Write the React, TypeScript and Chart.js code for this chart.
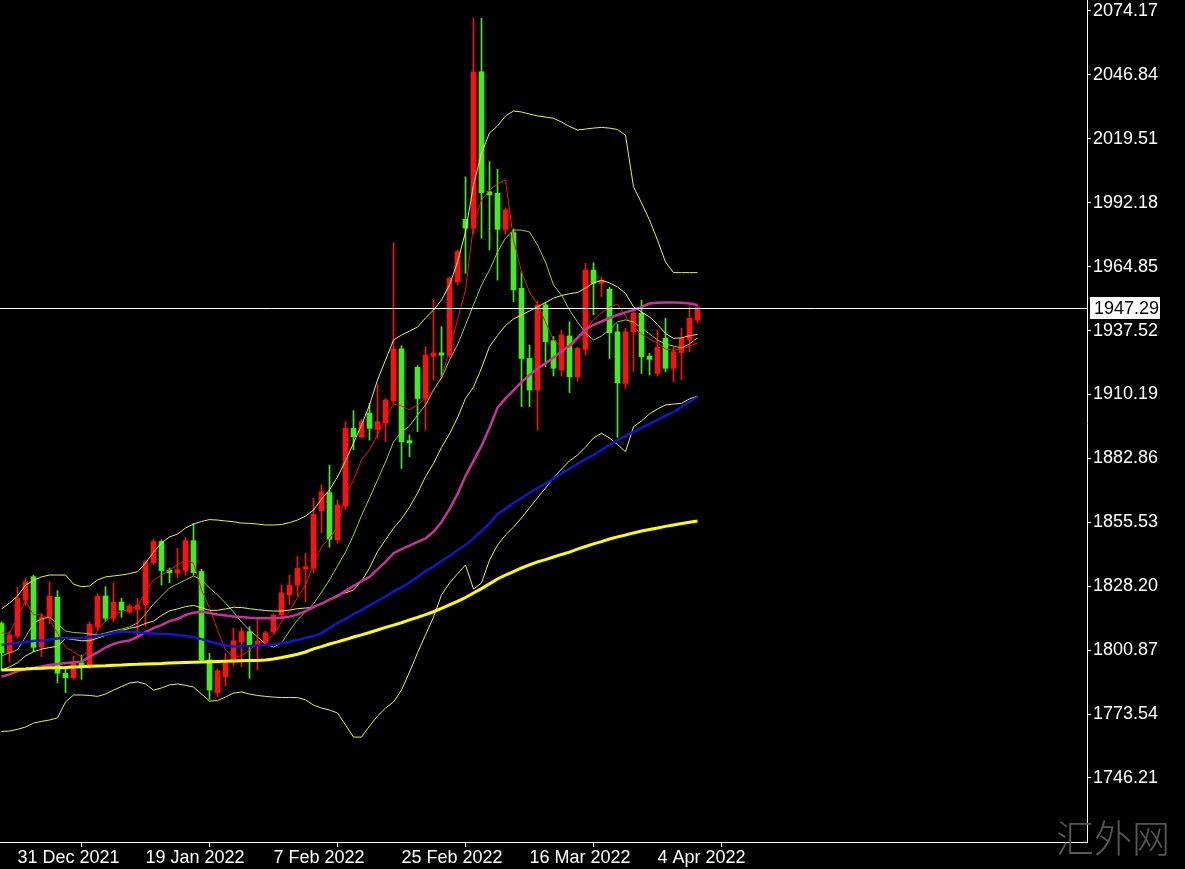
import React, { useEffect, useRef } from "react";
import { Chart, registerables } from "chart.js";

Chart.register(...registerables);

// ---------- data ----------
const DATES = [
  "29 Dec 2021", "30 Dec 2021", "31 Dec 2021", "2 Jan 2022", "3 Jan 2022", "4 Jan 2022", "5 Jan 2022", "6 Jan 2022", "7 Jan 2022", "9 Jan 2022",
  "10 Jan 2022", "11 Jan 2022", "12 Jan 2022", "13 Jan 2022", "14 Jan 2022", "16 Jan 2022", "17 Jan 2022", "18 Jan 2022", "19 Jan 2022", "20 Jan 2022",
  "21 Jan 2022", "23 Jan 2022", "24 Jan 2022", "25 Jan 2022", "26 Jan 2022", "27 Jan 2022", "28 Jan 2022", "30 Jan 2022", "31 Jan 2022", "1 Feb 2022",
  "2 Feb 2022", "3 Feb 2022", "4 Feb 2022", "6 Feb 2022", "7 Feb 2022", "8 Feb 2022", "9 Feb 2022", "10 Feb 2022", "11 Feb 2022", "13 Feb 2022",
  "14 Feb 2022", "15 Feb 2022", "16 Feb 2022", "17 Feb 2022", "18 Feb 2022", "20 Feb 2022", "21 Feb 2022", "22 Feb 2022", "23 Feb 2022", "24 Feb 2022",
  "25 Feb 2022", "27 Feb 2022", "28 Feb 2022", "1 Mar 2022", "2 Mar 2022", "3 Mar 2022", "4 Mar 2022", "6 Mar 2022", "7 Mar 2022", "8 Mar 2022",
  "9 Mar 2022", "10 Mar 2022", "11 Mar 2022", "13 Mar 2022", "14 Mar 2022", "15 Mar 2022", "16 Mar 2022", "17 Mar 2022", "18 Mar 2022", "20 Mar 2022",
  "21 Mar 2022", "22 Mar 2022", "23 Mar 2022", "24 Mar 2022", "25 Mar 2022", "27 Mar 2022", "28 Mar 2022", "29 Mar 2022", "30 Mar 2022", "31 Mar 2022",
  "1 Apr 2022", "3 Apr 2022", "4 Apr 2022", "5 Apr 2022", "6 Apr 2022", "7 Apr 2022", "8 Apr 2022", "10 Apr 2022",
];

const OPEN = [
  1812.3, 1799.8, 1806.9, 1822.3, 1832.3, 1802.1, 1814.9, 1823.5, 1791.0, 1789.1,
  1795.5, 1794.5, 1810.9, 1824.0, 1814.5, 1821.4, 1817.3, 1818.3, 1820.2, 1838.3,
  1847.3, 1835.1, 1834.0, 1834.9, 1847.7, 1834.5, 1796.7, 1782.7, 1789.5, 1795.9,
  1804.5, 1808.8, 1803.1, 1804.1, 1808.8, 1815.9, 1824.5, 1828.7, 1835.5, 1835.9,
  1860.5, 1868.2, 1848.0, 1862.5, 1895.7, 1892.1, 1902.2, 1895.3, 1898.1, 1907.5,
  1929.7, 1890.5, 1921.8, 1908.5, 1926.5, 1928.0, 1927.1, 1958.4, 1985.1, 1981.3,
  2048.2, 1996.9, 1996.2, 1980.8, 1979.4, 1955.6, 1925.6, 1912.1, 1948.5, 1933.2,
  1920.7, 1935.2, 1917.8, 1929.5, 1963.4, 1957.7, 1955.2, 1937.0, 1915.0, 1937.0,
  1944.9, 1926.6, 1919.2, 1934.2, 1921.4, 1928.1, 1933.5, 1942.0,
];
const HIGH = [
  1813.0, 1808.8, 1827.7, 1831.5, 1833.0, 1816.6, 1830.1, 1826.3, 1793.8, 1798.4,
  1798.8, 1813.0, 1825.0, 1828.0, 1829.7, 1823.0, 1820.5, 1823.0, 1839.5, 1848.3,
  1848.0, 1836.0, 1844.4, 1849.0, 1855.1, 1835.5, 1799.5, 1793.0, 1799.5, 1810.2,
  1810.5, 1810.9, 1813.8, 1809.0, 1816.5, 1828.7, 1833.0, 1840.9, 1842.3, 1865.8,
  1871.5, 1880.0, 1865.1, 1898.6, 1903.3, 1899.5, 1906.4, 1914.3, 1908.5, 1975.1,
  1931.0, 1892.9, 1922.5, 1930.6, 1950.6, 1939.2, 1960.5, 1972.0, 2003.3, 2071.0,
  2071.0, 2009.7, 2006.5, 1990.0, 1981.0, 1962.7, 1931.4, 1949.9, 1949.5, 1935.0,
  1937.8, 1941.3, 1930.5, 1966.3, 1966.5, 1960.5, 1956.0, 1940.3, 1938.5, 1945.5,
  1950.6, 1927.8, 1937.8, 1942.8, 1930.6, 1938.5, 1947.7, 1948.5,
];
const LOW = [
  1792.1, 1795.9, 1806.0, 1820.0, 1800.2, 1798.1, 1812.3, 1787.0, 1782.7, 1788.5,
  1788.4, 1793.0, 1809.5, 1813.0, 1813.0, 1814.9, 1816.5, 1806.0, 1811.0, 1837.5,
  1828.7, 1829.7, 1832.0, 1833.0, 1833.0, 1796.0, 1779.8, 1781.0, 1785.5, 1794.0,
  1793.8, 1788.8, 1792.4, 1803.5, 1808.0, 1814.5, 1820.2, 1824.0, 1821.6, 1834.0,
  1851.1, 1844.9, 1846.6, 1861.0, 1886.5, 1891.5, 1890.7, 1891.5, 1890.0, 1906.0,
  1878.6, 1883.6, 1894.3, 1895.0, 1916.4, 1917.8, 1926.0, 1957.0, 1962.0, 1979.0,
  1977.0, 1972.0, 1959.1, 1978.8, 1949.9, 1905.0, 1905.0, 1895.0, 1922.1, 1918.1,
  1918.1, 1911.0, 1916.0, 1927.1, 1944.2, 1952.0, 1925.6, 1891.9, 1912.8, 1919.9,
  1919.2, 1918.5, 1918.1, 1919.9, 1915.7, 1916.4, 1928.5, 1941.0,
];
const CLOSE = [
  1799.8, 1807.4, 1823.0, 1830.1, 1802.1, 1814.9, 1824.0, 1791.0, 1789.1, 1795.9,
  1793.8, 1812.0, 1824.0, 1814.5, 1821.4, 1818.0, 1819.7, 1820.0, 1838.7, 1847.3,
  1834.9, 1834.0, 1835.3, 1847.7, 1834.0, 1796.7, 1783.8, 1792.1, 1795.9, 1804.9,
  1808.8, 1803.1, 1804.8, 1808.3, 1815.9, 1825.4, 1828.7, 1835.9, 1836.5, 1859.0,
  1868.6, 1848.3, 1863.0, 1895.7, 1892.1, 1898.6, 1895.7, 1898.6, 1907.8, 1929.7,
  1890.0, 1889.5, 1908.5, 1927.1, 1928.0, 1927.0, 1959.9, 1971.3, 1981.3, 2048.2,
  1996.5, 1995.5, 1980.8, 1989.1, 1954.9, 1925.6, 1912.1, 1948.5, 1932.8, 1921.4,
  1935.6, 1917.8, 1929.9, 1963.4, 1957.7, 1959.1, 1936.6, 1915.2, 1937.0, 1944.9,
  1926.3, 1925.2, 1930.4, 1921.4, 1928.5, 1934.2, 1942.8, 1947.29,
];

// red thin moving average
const MA_RED = [
  1808.2, 1808.2, 1814.6, 1822.0, 1816.0, 1815.9, 1814.0, 1808.0, 1802.2, 1800.1,
  1798.0, 1801.0, 1809.5, 1813.3, 1815.9, 1817.4, 1818.5, 1819.5, 1825.7, 1830.9,
  1833.0, 1835.1, 1837.3, 1839.4, 1838.1, 1826.6, 1818.9, 1809.5, 1800.9, 1798.0,
  1798.4, 1800.9, 1803.9, 1804.8, 1807.4, 1812.9, 1817.6, 1823.2, 1828.7, 1837.3,
  1845.0, 1848.8, 1853.5, 1867.2, 1873.6, 1882.2, 1886.5, 1893.0, 1900.1, 1906.1,
  1905.3, 1903.6, 1905.7, 1908.7, 1912.1, 1917.7, 1929.2, 1942.1, 1954.9, 1982.7,
  1993.3, 1997.6, 2000.2, 2001.9, 1976.2, 1962.6, 1954.0, 1948.9, 1941.2, 1933.5,
  1930.5, 1930.5, 1933.5, 1937.3, 1942.1, 1945.0, 1947.6, 1948.9, 1943.7, 1939.0,
  1936.1, 1933.9, 1932.2, 1929.6, 1929.2, 1929.6, 1930.9, 1932.2,
];
// yellow-green thin moving average
const MA_GREEN = [
  1798.4, 1799.7, 1801.0, 1806.5, 1812.5, 1814.2, 1815.0, 1812.1, 1809.1, 1808.4,
  1808.2, 1807.8, 1807.4, 1808.2, 1809.1, 1809.9, 1810.8, 1812.5, 1816.3, 1820.6,
  1824.0, 1827.5, 1829.2, 1830.9, 1832.6, 1830.9, 1827.5, 1824.5, 1821.0, 1817.2,
  1812.9, 1809.5, 1806.5, 1803.5, 1802.2, 1803.9, 1809.1, 1813.8, 1817.2, 1820.6,
  1825.7, 1830.9, 1836.9, 1842.8, 1850.1, 1858.4, 1865.9, 1873.6, 1881.3, 1889.9,
  1894.2, 1896.7, 1901.4, 1905.7, 1912.1, 1917.2, 1924.9, 1931.4, 1939.9, 1948.5,
  1957.0, 1963.4, 1971.1, 1977.1, 1980.5, 1980.5, 1979.7, 1974.1, 1966.8, 1957.0,
  1952.7, 1946.3, 1941.2, 1936.5, 1933.5, 1935.2, 1937.8, 1941.2, 1942.1, 1941.2,
  1938.6, 1936.1, 1933.5, 1931.8, 1930.9, 1930.1, 1931.8, 1934.4,
];
// magenta moving average
const MA_MAGENTA = [
  1789.6, 1790.5, 1791.9, 1792.8, 1793.2, 1793.9, 1794.5, 1795.0, 1795.4, 1795.6,
  1796.0, 1798.0, 1799.9, 1802.0, 1803.5, 1804.5, 1805.0, 1806.5, 1808.6, 1810.3,
  1811.6, 1813.3, 1814.2, 1815.9, 1816.9, 1817.3, 1816.8, 1816.1, 1815.7, 1815.3,
  1815.0, 1814.7, 1814.5, 1814.5, 1814.5, 1814.7, 1815.2, 1816.1, 1817.6, 1819.3,
  1820.8, 1822.5, 1824.0, 1826.2, 1828.3, 1830.4, 1832.2, 1835.4, 1838.6, 1842.3,
  1844.1, 1845.6, 1847.2, 1848.6, 1851.5, 1855.7, 1861.2, 1867.6, 1875.3, 1881.8,
  1888.2, 1896.0, 1904.5, 1908.5, 1912.0, 1915.5, 1918.5, 1921.2, 1923.5, 1926.0,
  1928.5, 1931.2, 1934.5, 1938.0, 1940.0, 1941.4, 1942.9, 1944.2, 1945.3, 1946.3,
  1947.6, 1949.1, 1949.4, 1949.5, 1949.5, 1949.4, 1949.1, 1948.5,
];
// blue moving average
const MA_BLUE = [
  1803.1, 1803.5, 1803.9, 1804.4, 1804.8, 1805.0, 1805.4, 1805.9, 1806.1, 1806.1,
  1806.1, 1806.5, 1806.9, 1807.6, 1808.2, 1808.8, 1808.7, 1808.4, 1808.2, 1808.0,
  1807.8, 1807.8, 1807.4, 1806.9, 1806.5, 1805.6, 1804.6, 1803.7, 1802.9, 1802.4,
  1802.5, 1802.6, 1802.9, 1803.1, 1803.3, 1803.9, 1804.5, 1805.2, 1806.1, 1806.9,
  1808.2, 1810.3, 1812.5, 1814.2, 1816.3, 1818.0, 1820.0, 1821.9, 1823.8, 1826.0,
  1827.7, 1829.8, 1832.1, 1834.7, 1836.6, 1839.0, 1841.1, 1843.7, 1845.8, 1848.8,
  1851.8, 1855.2, 1859.1, 1861.4, 1863.8, 1865.9, 1868.1, 1870.2, 1872.1, 1874.3,
  1876.4, 1878.5, 1880.5, 1882.6, 1884.3, 1886.5, 1888.6, 1890.7, 1892.4, 1894.2,
  1895.9, 1897.6, 1899.3, 1901.0, 1902.7, 1904.9, 1907.0, 1909.1,
];
// thick yellow moving average
const MA_YELLOW = [
  1792.4, 1792.5, 1792.7, 1792.8, 1793.0, 1793.1, 1793.3, 1793.4, 1793.5, 1793.7,
  1793.8, 1794.0, 1794.1, 1794.2, 1794.4, 1794.5, 1794.7, 1794.8, 1795.0, 1795.1,
  1795.2, 1795.4, 1795.5, 1795.6, 1795.7, 1795.8, 1795.9, 1796.0, 1796.1, 1796.2,
  1796.3, 1796.4, 1796.5, 1796.7, 1797.1, 1797.7, 1798.4, 1799.1, 1800.1, 1801.4,
  1802.4, 1803.5, 1804.4, 1805.4, 1806.5, 1807.4, 1808.4, 1809.5, 1810.6, 1811.6,
  1812.6, 1813.8, 1814.9, 1816.1, 1817.3, 1818.7, 1820.2, 1821.7, 1823.4, 1825.3,
  1827.2, 1829.2, 1831.3, 1833.0, 1834.5, 1836.0, 1837.3, 1838.6, 1839.6, 1840.7,
  1841.8, 1842.8, 1844.1, 1845.2, 1846.3, 1847.3, 1848.4, 1849.3, 1850.1, 1851.0,
  1851.8, 1852.5, 1853.1, 1853.8, 1854.4, 1855.0, 1855.6, 1856.1,
];
// Bollinger bands
const BB_UPPER = [
  1818.5, 1821.0, 1824.0, 1828.7, 1830.7, 1832.2, 1833.0, 1833.0, 1833.0, 1829.1,
  1828.0, 1828.3, 1830.9, 1832.2, 1832.6, 1833.0, 1833.6, 1834.4, 1838.1, 1842.8,
  1846.7, 1849.3, 1850.5, 1853.1, 1854.8, 1855.9, 1856.7, 1856.5, 1856.1, 1855.8,
  1855.2, 1855.1, 1854.8, 1854.4, 1854.4, 1854.6, 1855.4, 1856.5, 1858.2, 1860.8,
  1865.5, 1869.4, 1874.9, 1881.8, 1889.4, 1897.1, 1905.7, 1916.4, 1924.9, 1933.5,
  1935.6, 1937.3, 1939.0, 1942.9, 1946.3, 1950.6, 1957.0, 1966.8, 1979.7, 1999.8,
  2013.4, 2022.0, 2025.0, 2029.3, 2031.4, 2031.0, 2030.1, 2029.3, 2028.8, 2028.3,
  2026.7, 2024.8, 2023.3, 2023.7, 2024.1, 2024.4, 2024.1, 2023.5, 2021.1, 1999.0,
  1992.1, 1984.8, 1976.2, 1966.8, 1962.3, 1962.3, 1962.3, 1962.3,
];
const BB_MIDDLE = [
  1792.3, 1793.7, 1795.5, 1798.4, 1800.2, 1801.3, 1802.0, 1802.5, 1805.9, 1805.4,
  1804.9, 1804.9, 1806.0, 1807.2, 1808.2, 1809.2, 1810.2, 1810.9, 1812.3, 1813.3,
  1815.7, 1817.7, 1818.5, 1819.5, 1820.0, 1819.0, 1817.9, 1817.9, 1818.5, 1819.2,
  1819.1, 1818.6, 1818.2, 1817.8, 1817.6, 1817.6, 1818.0, 1818.6, 1818.9, 1819.1,
  1820.8, 1822.4, 1824.5, 1825.4, 1826.6, 1830.4, 1836.0, 1843.0, 1848.0, 1853.0,
  1857.0, 1862.0, 1868.0, 1875.0, 1880.7, 1887.6, 1893.3, 1900.2, 1908.5, 1913.4,
  1921.5, 1930.7, 1935.4, 1939.7, 1942.5, 1944.2, 1945.9, 1947.7, 1949.5, 1951.4,
  1952.5, 1953.3, 1953.8, 1955.7, 1957.9, 1959.0, 1957.9, 1956.2, 1953.4, 1947.7,
  1945.5, 1943.4, 1940.1, 1936.3, 1934.2, 1934.4, 1935.3, 1935.9,
];
const BB_LOWER = [
  1766.1, 1766.3, 1767.0, 1768.0, 1769.7, 1770.4, 1771.0, 1771.9, 1778.7, 1781.7,
  1781.7, 1781.5, 1781.1, 1782.1, 1783.8, 1785.3, 1786.8, 1787.3, 1786.4, 1783.8,
  1784.7, 1786.0, 1786.4, 1785.8, 1785.1, 1782.1, 1779.1, 1779.3, 1780.8, 1782.5,
  1783.0, 1782.1, 1781.5, 1781.1, 1780.8, 1780.6, 1780.6, 1780.6, 1779.6, 1777.4,
  1776.1, 1775.3, 1774.0, 1768.9, 1763.7, 1763.7, 1768.4, 1772.7, 1776.1, 1778.7,
  1783.8, 1791.5, 1799.7, 1807.4, 1815.0, 1824.5, 1829.6, 1833.5, 1837.3, 1827.0,
  1829.6, 1839.4, 1845.8, 1850.1, 1853.5, 1857.4, 1861.7, 1866.0, 1870.2, 1874.5,
  1878.3, 1881.8, 1884.3, 1887.7, 1891.6, 1893.6, 1891.6, 1888.8, 1885.7, 1896.4,
  1898.9, 1901.9, 1904.0, 1905.7, 1906.1, 1906.4, 1908.3, 1909.5,
];

const Y_TICK_LABELS = [
  "2074.17", "2046.84", "2019.51", "1992.18", "1964.85", "1937.52", "1910.19",
  "1882.86", "1855.53", "1828.20", "1800.87", "1773.54", "1746.21",
];
const X_TICK_INDEX = [2, 18, 34, 50, 66, 82];
const LAST_PRICE = 1947.29;
const WATERMARK = "汇外网";

// ---------- style ----------
const UP_COLOR = "#ff1010";
const DOWN_COLOR = "#44f014";
const AXIS_FONT = "'Liberation Sans', Arial, sans-serif";
const W = 1185;
const H = 869;
const AXIS_W = 98; // right price scale width
const AXIS_H = 27; // bottom time scale height
const BAR_STEP = 8; // px per bar
const Y_MAX = 2077.163;
const Y_MIN = 1718.84;

export default function App() {
  const ref = useRef<HTMLCanvasElement | null>(null);

  useEffect(() => {
    document.body.style.margin = "0";
    document.body.style.background = "#000";
    const canvas = ref.current;
    if (!canvas) return;
    const ctx = canvas.getContext("2d");
    if (!ctx) return;

    const idx = DATES.map((_, i) => i);
    const colors = idx.map((i) => (CLOSE[i] >= OPEN[i] ? UP_COLOR : DOWN_COLOR));

    const line = (label: string, vals: number[], color: string, width: number, order: number) => ({
      type: "line" as const,
      label,
      data: vals.map((v, i) => ({ x: i, y: v })),
      borderColor: color,
      backgroundColor: color,
      borderWidth: width,
      pointRadius: 0,
      pointHoverRadius: 0,
      tension: 0,
      fill: false,
      order,
    });

    const xMin = -1.5 / BAR_STEP;
    const xMax = xMin + (W - AXIS_W) / BAR_STEP;

    const overlay = {
      id: "overlay",
      afterDatasetsDraw(chart: any) {
        const { ctx: c, chartArea, scales } = chart;
        const y = Math.round(scales.y.getPixelForValue(LAST_PRICE)) + 0.5;
        c.save();
        c.strokeStyle = "#ffffff";
        c.lineWidth = 1;
        c.beginPath();
        c.moveTo(chartArea.left, y);
        c.lineTo(chartArea.right, y);
        c.stroke();
        // right scale line reaches the top edge of the window
        c.beginPath();
        c.moveTo(chartArea.right + 0.5, 0);
        c.lineTo(chartArea.right + 0.5, chartArea.top);
        c.stroke();
        c.restore();
      },
      afterDraw(chart: any) {
        const { ctx: c, chartArea, scales } = chart;
        const y = Math.round(scales.y.getPixelForValue(LAST_PRICE));
        c.save();
        c.fillStyle = "#ffffff";
        c.fillRect(chartArea.right + 3, y - 11, 70, 22);
        c.fillStyle = "#000000";
        c.font = `18px ${AXIS_FONT}`;
        c.textBaseline = "middle";
        c.textAlign = "left";
        c.fillText(LAST_PRICE.toFixed(2), chartArea.right + 7, y + 1);
        c.fillStyle = "#575757";
        c.font = "300 38px 'Noto Sans CJK SC', sans-serif";
        c.textBaseline = "middle";
        c.fillText(WATERMARK, 1056, 838);
        c.restore();
      },
    };

    const chart = new Chart(ctx, {
      type: "bar",
      data: {
        datasets: [
          line("MA yellow", MA_YELLOW, "#ffff00", 3, 1),
          line("MA blue", MA_BLUE, "#1414d2", 2.5, 2),
          line("MA magenta", MA_MAGENTA, "#c8329b", 2.5, 3),
          line("BB upper", BB_UPPER, "#eeee55", 1, 4),
          line("BB middle", BB_MIDDLE, "#eeee55", 1, 4),
          line("BB lower", BB_LOWER, "#eeee55", 1, 4),
          line("MA yellow-green", MA_GREEN, "#9acd32", 1, 5),
          line("MA red", MA_RED, "#ee1515", 1, 6),
          {
            type: "bar" as const,
            label: "body",
            data: idx.map((i) => ({ x: i, y: [OPEN[i], CLOSE[i]] })),
            backgroundColor: colors,
            borderWidth: 0,
            barThickness: 5,
            minBarLength: 1,
            grouped: false,
            order: 20,
          },
          {
            type: "bar" as const,
            label: "wick",
            data: idx.map((i) => ({ x: i, y: [LOW[i], HIGH[i]] })),
            backgroundColor: colors,
            borderWidth: 0,
            barThickness: 1,
            minBarLength: 1,
            grouped: false,
            order: 21,
          },
        ] as any,
      },
      options: {
        responsive: false,
        animation: false,
        devicePixelRatio: 1,
        events: [],
        layout: { padding: { top: 4, left: 0, right: 0, bottom: 0 } },
        plugins: {
          legend: { display: false },
          tooltip: { enabled: false },
          title: { display: false },
        },
        scales: {
          x: {
            type: "linear",
            position: "bottom",
            min: xMin,
            max: xMax,
            offset: false,
            grid: {
              display: true,
              drawOnChartArea: false,
              drawTicks: true,
              tickLength: 5,
              color: "#ffffff",
            },
            border: { display: true, color: "#ffffff", width: 1 },
            ticks: {
              color: "#ffffff",
              font: { family: AXIS_FONT, size: 18 },
              align: "start",
              padding: 0,
              autoSkip: false,
              maxRotation: 0,
              minRotation: 0,
              callback: (v: any) => DATES[Math.round(Number(v))] ?? "",
            },
            afterBuildTicks: (scale: any) => {
              scale.ticks = X_TICK_INDEX.map((v) => ({ value: v }));
            },
            afterFit: (scale: any) => {
              scale.height = AXIS_H;
              scale.paddingLeft = 0;
              scale.paddingRight = 0;
            },
          },
          y: {
            type: "linear",
            position: "right",
            min: Y_MIN,
            max: Y_MAX,
            grid: {
              display: true,
              drawOnChartArea: false,
              drawTicks: true,
              tickLength: 4,
              color: "#ffffff",
            },
            border: { display: true, color: "#ffffff", width: 1 },
            ticks: {
              color: "#ffffff",
              font: { family: AXIS_FONT, size: 18 },
              padding: 2,
              autoSkip: false,
              callback: (v: any) => Number(v).toFixed(2),
            },
            afterBuildTicks: (scale: any) => {
              scale.ticks = Y_TICK_LABELS.map((s) => ({ value: parseFloat(s) }));
            },
            afterFit: (scale: any) => {
              scale.width = AXIS_W;
              scale.paddingTop = 0;
              scale.paddingBottom = 0;
            },
          },
        },
      } as any,
      plugins: [overlay],
    });

    return () => chart.destroy();
  }, []);

  return (
    <div style={{ position: "absolute", left: 0, top: 0, width: W, height: H, background: "#000" }}>
      <canvas ref={ref} width={W} height={H} style={{ display: "block", width: W, height: H }} />
    </div>
  );
}
